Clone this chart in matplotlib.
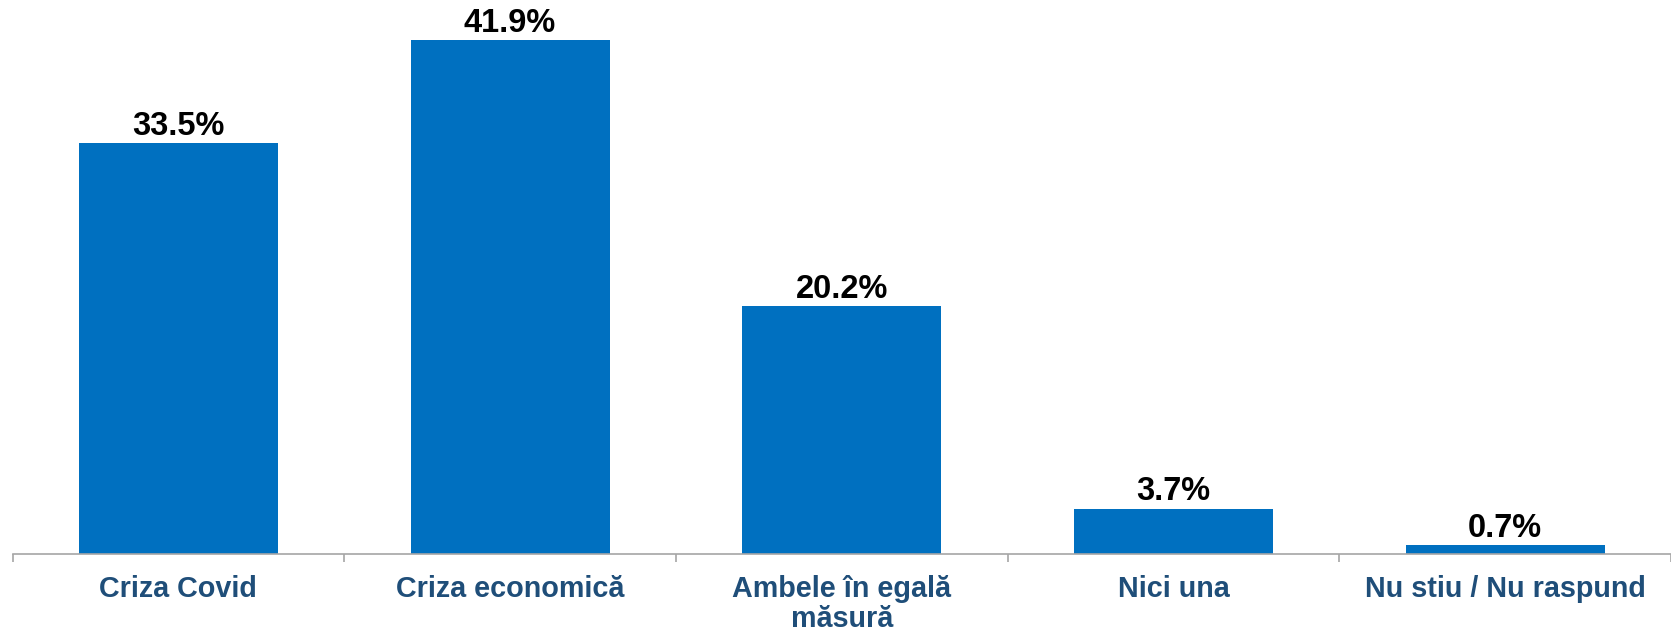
import matplotlib
matplotlib.use("Agg")
import matplotlib.pyplot as plt
import numpy as np

categorii = ["Criza Covid", "Criza economică", "Ambele în egală\nmăsură", "Nici una", "Nu stiu / Nu raspund"]
valori = [33.5, 41.9, 20.2, 3.7, 0.7]
etichete = ["33.5%", "41.9%", "20.2%", "3.7%", "0.7%"]

plt.rcParams['font.family'] = ['Liberation Sans', 'DejaVu Sans']

fig = plt.figure(figsize=(16.71, 6.34), dpi=100)
ax = fig.add_axes([12.5/1671, 80/634, 1658.5/1671, 554/634])

x = np.arange(len(categorii))
bare = ax.bar(x, valori, width=0.6, color="#0070C0")

for xi, v, t in zip(x, valori, etichete):
    ax.annotate(t, (xi, v), xytext=(0, 1), textcoords="offset points",
                ha="center", va="bottom", fontsize=23.5, fontweight="bold", color="black")

ax.set_xlim(-0.5, 4.476)
ax.set_ylim(0, 45.2)

for s in ["top", "right", "left"]:
    ax.spines[s].set_visible(False)
ax.spines["bottom"].set_color("#A6A6A6")
ax.spines["bottom"].set_linewidth(1.2)

ax.set_yticks([])
ax.set_xticks(x)
ax.set_xticklabels(categorii, fontsize=20.7, fontweight="bold", color="#1F4E79", linespacing=1.12)
ax.tick_params(axis="x", which="major", length=0, pad=15)
ax.set_xticks(np.arange(-0.5, 4.6, 1.0), minor=True)
ax.tick_params(axis="x", which="minor", length=6, width=1.2, color="#A6A6A6")

fig.savefig("out.png", dpi=100)
